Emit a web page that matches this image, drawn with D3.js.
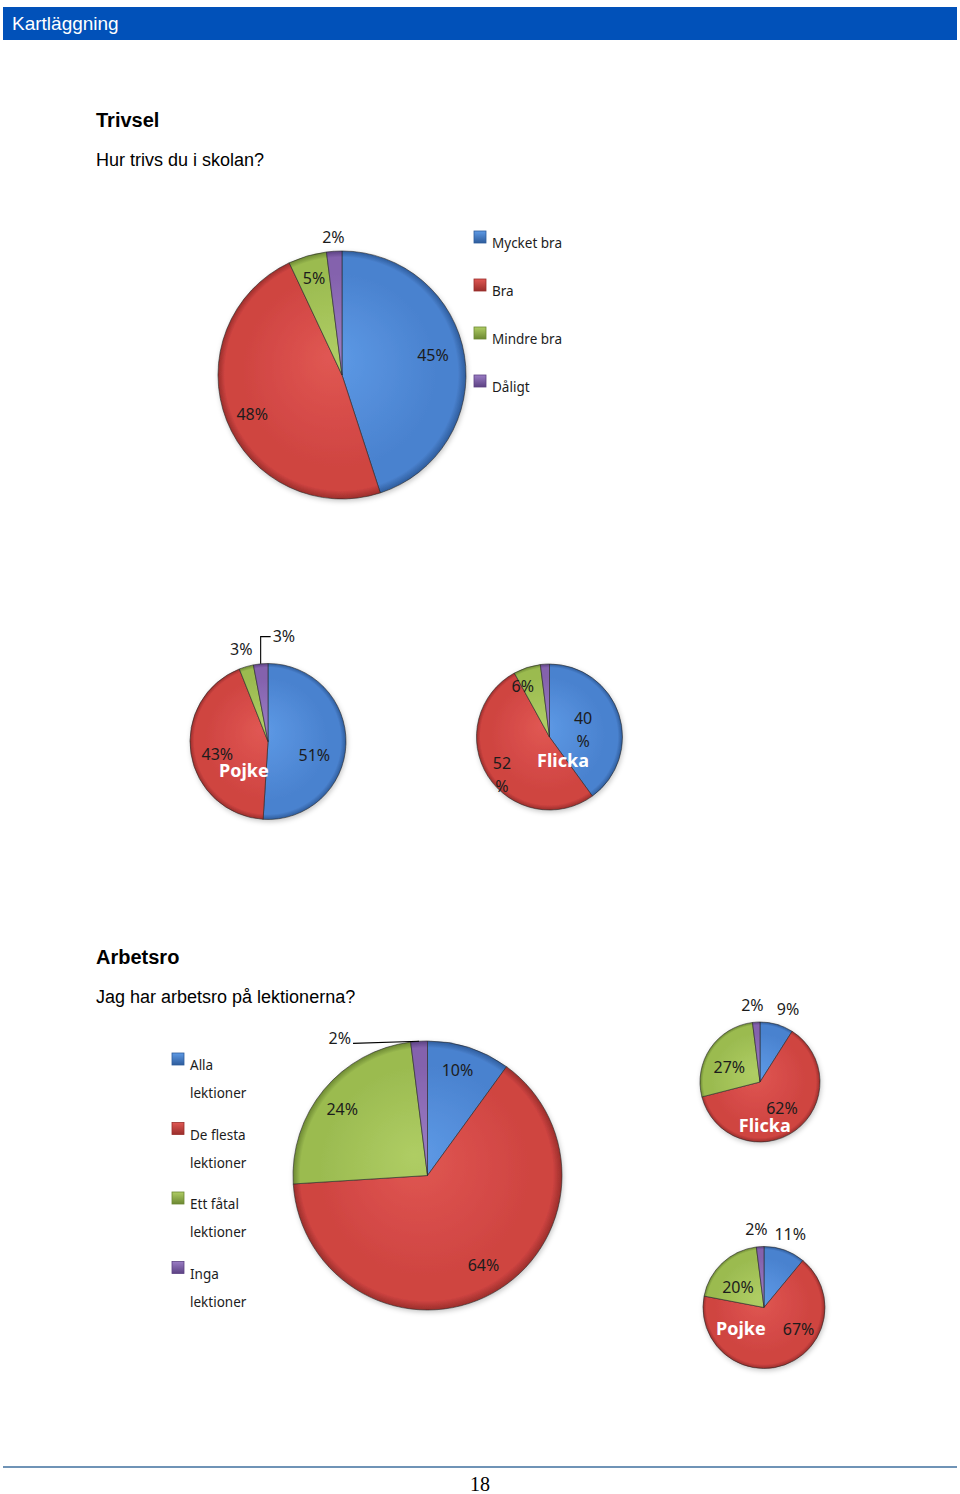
<!DOCTYPE html>
<html><head><meta charset="utf-8">
<script src="https://cdn.jsdelivr.net/npm/d3@7"></script>
<style>
html,body{margin:0;padding:0;background:#fff;}
svg{display:block;}
</style></head>
<body>
<script>
// ---------- DATA ----------
const trivselCategories = ["Mycket bra", "Bra", "Mindre bra", "Dåligt"];
const trivselAll = [45, 48, 5, 2];
const trivselPojke = [51, 43, 3, 3];
const trivselFlicka = [40, 52, 6, 2];

const arbetsroCategories = ["Alla lektioner", "De flesta lektioner", "Ett fåtal lektioner", "Inga lektioner"];
const arbetsroAll = [10, 64, 24, 2];
const arbetsroFlicka = [9, 62, 27, 2];
const arbetsroPojke = [11, 67, 20, 2];

const pageNumber = "18";

// ---------- STYLE ----------
const baseCol = ["#4a82cf", "#cf4441", "#9bbb50", "#8462ad"];
const lightCol = ["#5e9ae6", "#e05753", "#afcd64", "#9a7cc4"];
const darkCol = ["#2e5c9c", "#9a2e2b", "#6c8832", "#5c4283"];
const labelFont = "'Noto Sans', 'Open Sans', sans-serif";
const docFont = "'Liberation Sans', Arial, sans-serif";

const W = 960, H = 1494;
const svg = d3.select("body").append("svg").attr("width", W).attr("height", H);
svg.append("rect").attr("width", W).attr("height", H).attr("fill", "#fff");
const defs = svg.append("defs");

const shadow = defs.append("filter").attr("id", "shadow").attr("x", "-20%").attr("y", "-20%").attr("width", "140%").attr("height", "140%");
shadow.append("feDropShadow").attr("dx", 1).attr("dy", 2).attr("stdDeviation", 2.5).attr("flood-color", "#000").attr("flood-opacity", 0.22);

// ---------- HEADER ----------
svg.append("rect").attr("x", 3).attr("y", 7).attr("width", 954).attr("height", 33).attr("fill", "#0151b9");
svg.append("text").attr("x", 12).attr("y", 30).attr("fill", "#fff")
  .style("font-family", docFont).style("font-size", "19px").text("Kartläggning");

// Section titles
function sectionTitle(t, sub, y) {
  svg.append("text").attr("x", 96).attr("y", y).attr("fill", "#000")
    .style("font-family", docFont).style("font-weight", "bold").style("font-size", "20px").text(t);
  svg.append("text").attr("x", 96).attr("y", y + 39).attr("fill", "#000")
    .style("font-family", docFont).style("font-size", "18px").text(sub);
}
sectionTitle("Trivsel", "Hur trivs du i skolan?", 127);
sectionTitle("Arbetsro", "Jag har arbetsro på lektionerna?", 964);

// ---------- PIE ----------
let gradId = 0;
function polar(cx, cy, d, a) { return [cx + d * Math.sin(a), cy - d * Math.cos(a)]; }

function drawPie(cfg) {
  const { cx, cy, r, values } = cfg;
  const pie = d3.pie().sort(null).startAngle(0).endAngle(2 * Math.PI);
  const arcs = pie(values);
  const arc = d3.arc().innerRadius(0).outerRadius(r);
  const g = svg.append("g");
  const grads = baseCol.map((c, i) => {
    const id = "g" + (gradId++);
    const rg = defs.append("radialGradient").attr("id", id)
      .attr("gradientUnits", "userSpaceOnUse").attr("cx", 0).attr("cy", 0).attr("r", r)
      .attr("fx", -r * 0.1).attr("fy", -r * 0.15);
    rg.append("stop").attr("offset", "0%").attr("stop-color", lightCol[i]);
    rg.append("stop").attr("offset", "78%").attr("stop-color", baseCol[i]);
    rg.append("stop").attr("offset", "94%").attr("stop-color", baseCol[i]);
    rg.append("stop").attr("offset", "100%").attr("stop-color", darkCol[i]);
    return id;
  });
  const pg = g.append("g").attr("transform", `translate(${cx},${cy})`).attr("filter", "url(#shadow)");
  pg.selectAll("path").data(arcs).join("path")
    .attr("d", arc)
    .attr("fill", (d, i) => `url(#${grads[i]})`)
    .attr("stroke", "rgba(40,40,40,0.75)").attr("stroke-width", 0.8).attr("stroke-linejoin", "round");

  // labels
  const lg = svg.append("g").style("font-family", labelFont).style("font-size", cfg.fontSize || "16px").attr("fill", "#1c1c1c");
  arcs.forEach((d, i) => {
    const spec = cfg.labels[i];
    if (!spec) return;
    const [factor, shift, wrap] = spec;
    const mid = (d.startAngle + d.endAngle) / 2 + shift * Math.PI / 180;
    const [x, y] = polar(cx, cy, r * factor, mid);
    const txt = d.data + "%";
    const t = lg.append("text").attr("text-anchor", "middle");
    if (wrap) {
      t.append("tspan").attr("x", x).attr("y", y - 11.5).attr("dy", "0.35em").text(String(d.data));
      t.append("tspan").attr("x", x).attr("y", y + 11.5).attr("dy", "0.35em").text("%");
    } else {
      t.attr("x", x).attr("y", y).attr("dy", "0.35em").text(txt);
    }
    if (spec[3]) { // leader line
      const mida = (d.startAngle + d.endAngle) / 2;
      const p0 = polar(cx, cy, r, mida);
      const bb = t.node().getBBox();
      let path;
      if (spec[3] === "bracket") {
        path = `M${p0[0]},${p0[1]} V${y} H${bb.x - 2}`;
      } else {
        path = `M${p0[0]},${p0[1]} L${bb.x + bb.width + 2},${y + 5}`;
      }
      svg.append("path").attr("d", path).attr("fill", "none").attr("stroke", "#000").attr("stroke-width", 1.1);
    }
  });
  if (cfg.name) {
    svg.append("text").attr("x", cx + cfg.name[1] * r).attr("y", cy + cfg.name[2] * r)
      .attr("dy", "0.35em").attr("text-anchor", "middle")
      .attr("fill", "#fff").style("font-family", labelFont).style("font-weight", "bold").style("font-size", "18px")
      .text(cfg.name[0]);
  }
}

function drawLegend(cats, x, y0, step, lines) {
  const lg = svg.append("g").style("font-family", labelFont).style("font-size", "13.5px").attr("fill", "#1c1c1c");
  cats.forEach((c, i) => {
    const y = y0 + i * step;
    const id = "lg" + (gradId++);
    const lgGrad = defs.append("linearGradient").attr("id", id).attr("x1", 0).attr("y1", 0).attr("x2", 0).attr("y2", 1);
    lgGrad.append("stop").attr("offset", "0%").attr("stop-color", lightCol[i]);
    lgGrad.append("stop").attr("offset", "100%").attr("stop-color", darkCol[i]);
    lg.append("rect").attr("x", x).attr("y", y - 12).attr("width", 12).attr("height", 12)
      .attr("fill", `url(#${id})`).attr("stroke", darkCol[i]).attr("stroke-width", 0.8);
    const words = c.split(" ");
    const parts = lines ? [words.slice(0, -1).join(" "), words[words.length - 1]] : [c];
    parts.forEach((p, j) => {
      lg.append("text").attr("x", x + 18).attr("y", y + 5 + j * 28).text(p);
    });
  });
}

// ---------- TRIVSEL ----------
drawPie({ cx: 342, cy: 375, r: 124, values: trivselAll,
  labels: [[0.75, -3], [0.79, -2], [0.81, 0], [1.11, 0]] });
drawLegend(trivselCategories, 474, 243, 48, false);

drawPie({ cx: 268, cy: 741.5, r: 78, values: trivselPojke,
  labels: [[0.62, 15], [0.67, -5], [1.23, 0], [1.36, 14, false, "bracket"]],
  name: ["Pojke", -0.31, 0.38] });
drawPie({ cx: 549.5, cy: 737, r: 73, values: trivselFlicka,
  labels: [[0.47, 6, true], [0.83, -6, true], [0.78, -10], null],
  name: ["Flicka", 0.185, 0.33] });

// ---------- ARBETSRO ----------
drawPie({ cx: 427.5, cy: 1175.5, r: 134.5, values: arbetsroAll,
  labels: [[0.81, -2], [0.79, -3], [0.80, -2], [1.21, -29, false, "line"]] });
drawLegend(arbetsroCategories, 172, 1065, 69.5, true);

drawPie({ cx: 760, cy: 1082, r: 60, values: arbetsroFlicka,
  labels: [[1.29, 5], [0.57, -4], [0.57, -8], [1.29, -2]],
  name: ["Flicka", 0.08, 0.72] });
drawPie({ cx: 764, cy: 1307.5, r: 61, values: arbetsroPojke,
  labels: [[1.27, 0], [0.67, -38], [0.54, -9], [1.28, -2]],
  name: ["Pojke", -0.38, 0.35] });

// ---------- FOOTER ----------
svg.append("rect").attr("x", 3).attr("y", 1466).attr("width", 954).attr("height", 2).attr("fill", "#6f93b6");
svg.append("text").attr("x", 480).attr("y", 1491).attr("text-anchor", "middle")
  .style("font-family", "'Liberation Serif', 'Times New Roman', serif").style("font-size", "20px").attr("fill", "#000")
  .text(pageNumber);
</script>
</body></html>
